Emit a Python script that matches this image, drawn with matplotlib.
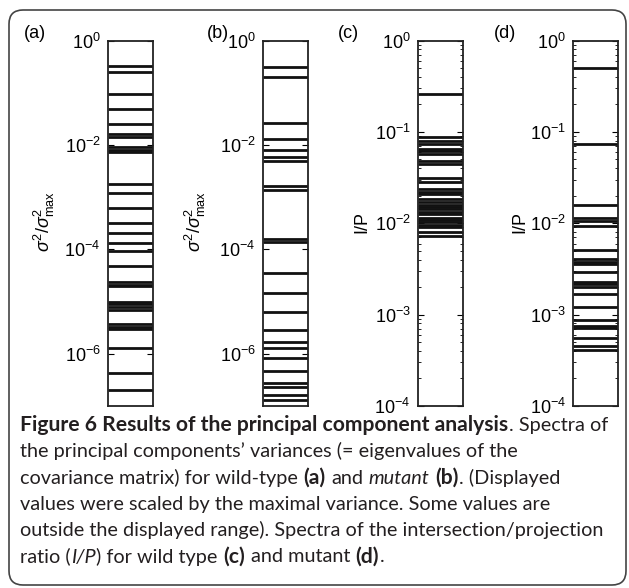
import numpy as np
import matplotlib.pyplot as plt
from matplotlib.patches import FancyBboxPatch
from matplotlib.transforms import IdentityTransform
from matplotlib.ticker import LogLocator, NullLocator, NullFormatter

plt.rcParams['font.family'] = ['Liberation Sans', 'DejaVu Sans']
plt.rcParams['mathtext.fontset'] = 'custom'
plt.rcParams['mathtext.rm'] = 'Liberation Sans'
plt.rcParams['mathtext.it'] = 'Liberation Sans:italic'
plt.rcParams['mathtext.bf'] = 'Liberation Sans:bold'

# spectra (a, b: scaled variances; c, d: I/P ratio)
wt_var = [3.2e-1, 2.5e-1, 9.3e-2, 4.9e-2, 2.5e-2, 1.6e-2, 1.4e-2, 9.1e-3, 7.9e-3,
          7.2e-3, 1.8e-3, 1.2e-3, 6.2e-4, 3.2e-4, 2.1e-4, 1.3e-4, 9.1e-5, 4.9e-5,
          2.4e-5, 2.1e-5, 1.95e-5, 1.0e-5, 8.9e-6, 7.8e-6, 6.9e-6, 3.7e-6, 3.3e-6,
          3.0e-6, 1.3e-6, 4.3e-7, 2.0e-7]
mut_var = [3.1e-1, 2.0e-1, 2.6e-2, 1.3e-2, 7.9e-3, 6.0e-3, 5.0e-3, 1.6e-3, 1.35e-3,
           1.6e-4, 1.4e-4, 3.6e-5, 1.45e-5, 6.3e-6, 2.9e-6, 1.7e-6, 1.3e-6, 8.3e-7,
           4.7e-7, 2.75e-7, 2.3e-7, 1.6e-7, 1.3e-7]
wt_ip = [2.6e-1, 8.8e-2, 7.9e-2, 7.4e-2, 6.5e-2, 6.1e-2, 5.7e-2, 4.8e-2, 4.5e-2,
         3.15e-2, 2.85e-2, 2.35e-2, 2.2e-2, 2.1e-2, 1.85e-2, 1.7e-2, 1.6e-2, 1.5e-2,
         1.43e-2, 1.34e-2, 1.26e-2, 1.15e-2, 1.09e-2, 1.03e-2, 9.6e-3, 9.0e-3,
         8.1e-3, 7.3e-3]
mut_ip = [5.0e-1, 7.4e-2, 1.6e-2, 1.15e-2, 1.07e-2, 9.4e-3, 5.1e-3, 4.1e-3, 3.8e-3,
          3.55e-3, 2.9e-3, 2.3e-3, 2.15e-3, 2.0e-3, 1.7e-3, 1.2e-3, 8.7e-4, 7.6e-4,
          7.2e-4, 5.6e-4, 4.5e-4, 4.1e-4]

panel_tags = ['(a)', '(b)', '(c)', '(d)']
ylabels = [r'$\sigma^2/\sigma^2_{\rm max}$', r'$\sigma^2/\sigma^2_{\rm max}$', 'I/P', 'I/P']
ylims = [(1e-7, 1), (1e-7, 1), (1e-4, 1), (1e-4, 1)]

W, H = 629, 588
fig = plt.figure(figsize=(W / 100, H / 100), dpi=100)
pix = IdentityTransform()

# outer rounded frame
frame = FancyBboxPatch((9, H - 585), 617, 575, boxstyle='round,pad=0,rounding_size=14',
                       transform=pix, fc='none', ec='#444444', lw=1.2, zorder=-1)
fig.patches.append(frame)

lefts = [107.5, 262.5, 417.5, 573]
top, bottom, width = 40.5, 406, 45
tag_x = [35, 218, 348, 505]
lab_x = [44, 195, 362, 520]

for i, data in enumerate([wt_var, mut_var, wt_ip, mut_ip]):
    ax = fig.add_axes([lefts[i] / W, 1 - bottom / H, width / W, (bottom - top) / H])
    ax.set_yscale('log')
    ax.hlines(data, 0, 1, color='#111111', lw=2.0)
    ax.set_xlim(0, 1)
    ax.set_ylim(*ylims[i])
    ax.set_xticks([])
    if i < 2:
        ax.yaxis.set_major_locator(LogLocator(base=100))
        ax.yaxis.set_minor_locator(NullLocator())
    else:
        ax.yaxis.set_major_locator(LogLocator(base=10))
        ax.yaxis.set_minor_locator(LogLocator(base=10, subs=np.arange(2, 10)))
        ax.yaxis.set_minor_formatter(NullFormatter())
    ax.tick_params(axis='y', which='both', direction='in', left=True, right=True,
                   labelsize=13, pad=5)
    ax.tick_params(axis='y', which='major', length=4, width=0.8)
    ax.tick_params(axis='y', which='minor', length=2.5, width=0.6)
    for s in ax.spines.values():
        s.set_linewidth(1.3)
        s.set_color('#222222')
    fig.text(tag_x[i], H - 33, panel_tags[i], transform=pix, fontsize=13,
             ha='center', va='center')
    fig.text(lab_x[i], H - 222, ylabels[i], transform=pix, fontsize=13,
             rotation=90, ha='center', va='center')

# caption, drawn piece by piece so bold / italic can be mixed
cap_font = 'Lato'
cap_sizes = {'normal': 14.3, 'bold': 15.2}
caption = [
    [('Figure 6 Results of the principal component analysis', 'bold', 'normal'),
     ('. Spectra of', 'normal', 'normal')],
    [('the principal components\u2019 variances (= eigenvalues of the', 'normal', 'normal')],
    [('covariance matrix) for wild-type ', 'normal', 'normal'), ('(a)', 'bold', 'normal'),
     (' and ', 'normal', 'normal'), ('mutant', 'normal', 'italic'), (' ', 'normal', 'normal'),
     ('(b)', 'bold', 'normal'), ('. (Displayed', 'normal', 'normal')],
    [('values were scaled by the maximal variance. Some values are', 'normal', 'normal')],
    [('outside the displayed range). Spectra of the intersection/projection', 'normal', 'normal')],
    [('ratio (', 'normal', 'normal'), ('I/P', 'normal', 'italic'),
     (') for wild type ', 'normal', 'normal'), ('(c)', 'bold', 'normal'),
     (' and mutant ', 'normal', 'normal'), ('(d)', 'bold', 'normal'), ('.', 'normal', 'normal')],
]

renderer = fig.canvas.get_renderer()


def text_width(s, weight, style):
    t = fig.text(0, 0, s, transform=pix, fontsize=cap_sizes[weight], family=cap_font,
                 weight=weight, style=style)
    w = t.get_window_extent(renderer).width
    t.remove()
    return w


space_w = {}
for wgt, sty in [('normal', 'normal'), ('bold', 'normal'), ('normal', 'italic')]:
    space_w[(wgt, sty)] = text_width('x x', wgt, sty) - text_width('xx', wgt, sty)

base0, step = 431, 26.3
for k, line in enumerate(caption):
    x = 20
    y = H - (base0 + k * step)
    for s, wgt, sty in line:
        core = s.strip(' ')
        if not core:
            x += len(s) * space_w[(wgt, sty)]
            continue
        lead = len(s) - len(s.lstrip(' '))
        trail = len(s) - len(s.rstrip(' '))
        x += lead * space_w[(wgt, sty)]
        t = fig.text(x, y, core, transform=pix, fontsize=cap_sizes[wgt], family=cap_font,
                     weight=wgt, style=sty, color='#231f20', va='baseline')
        x += t.get_window_extent(renderer).width + 0.5
        x += trail * space_w[(wgt, sty)]

fig.savefig('out.png', dpi=100)
